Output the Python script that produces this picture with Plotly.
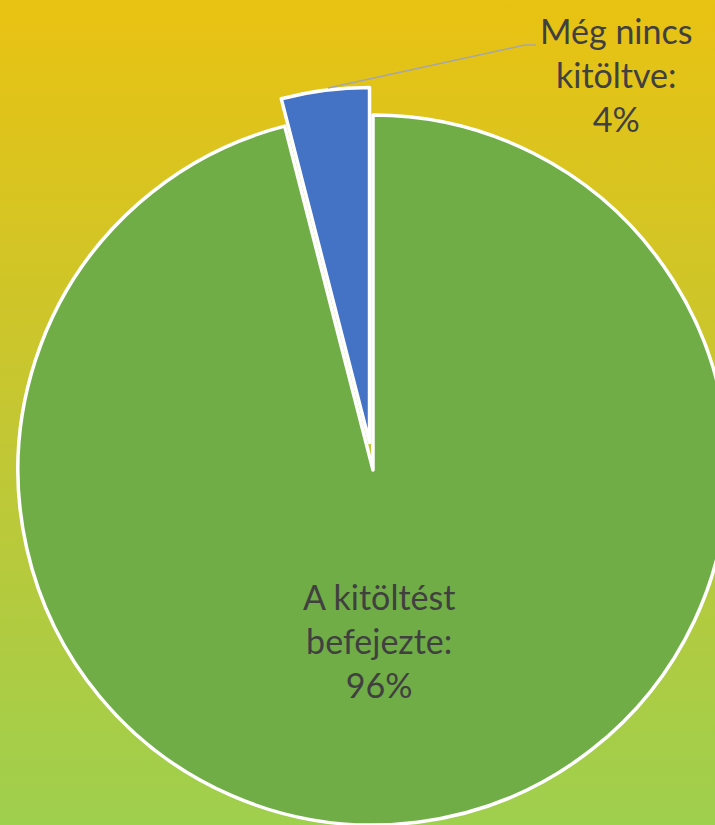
import plotly.graph_objects as go

# ---- data ----
labels = ["A kitöltést befejezte", "Még nincs kitöltve"]
values = [96, 4]
slice_colors = ["#70AD47", "#4472C4"]
pulls = [0, 0.078]

# ---- page / geometry (pixels) ----
W, H = 780, 860          # figure larger than the window; window clips it
SHIFT = 10               # figure div shifted left by this many px
CX, CY = 373 + SHIFT, 470  # pie centre in figure px
R = 355                  # pie radius in px
D = R * (1 + max(pulls))

def px(x):
    return (x + SHIFT) / W

def py(y):
    return 1 - y / H

total = sum(values)
pct = [f"{round(v / total * 100)}%" for v in values]

fig = go.Figure()

# background gradient
fig.add_trace(go.Scatter(
    x=[0, 1, 1, 0, 0], y=[0, 0, 1, 1, 0], mode="lines", fill="toself",
    line=dict(width=0), hoverinfo="skip", showlegend=False,
    fillgradient=dict(type="vertical",
                      colorscale=[[0, "#9BD050"], [0.5, "#C3C733"], [1, "#E9C212"]]),
))

fig.add_trace(go.Pie(
    labels=labels, values=values, sort=False, direction="counterclockwise",
    rotation=0, pull=pulls,
    marker=dict(colors=slice_colors, line=dict(color="white", width=3.5)),
    textinfo="none", hoverinfo="label+percent", showlegend=False,
    domain=dict(x=[(CX - D) / W, (CX + D) / W], y=[1 - (CY + D) / H, 1 - (CY - D) / H]),
))

font = dict(family="Lato, Open Sans, sans-serif", size=34, color="#404040")

fig.add_annotation(
    x=px(616), y=py(74), xref="paper", yref="paper", showarrow=False,
    xanchor="center", yanchor="middle",
    text=labels[1].replace(" kitöltve", "<br>kitöltve") + ":<br>" + pct[1],
    font=font, align="center",
)
fig.add_annotation(
    x=px(379), y=py(640), xref="paper", yref="paper", showarrow=False,
    xanchor="center", yanchor="middle",
    text=labels[0].replace(" befejezte", "<br>befejezte") + ":<br>" + pct[0],
    font=font, align="center",
)

# leader line
fig.add_shape(
    type="path", xref="paper", yref="paper",
    path=f"M {px(328)} {py(88)} L {px(525)} {py(45)} L {px(536)} {py(45)}",
    line=dict(color="#A6A6A6", width=1.5),
)

fig.update_layout(
    width=W, height=H, margin=dict(l=0, r=0, t=0, b=0),
    paper_bgcolor="#C8C830", plot_bgcolor="rgba(0,0,0,0)",
    xaxis=dict(range=[0, 1], visible=False, fixedrange=True),
    yaxis=dict(range=[0, 1], visible=False, fixedrange=True),
)

fig.write_html(
    "out.html",
    config=dict(displayModeBar=False),
    post_script=(
        "document.body.style.margin='0';"
        "document.body.style.overflow='hidden';"
        "document.getElementById('{plot_id}').style.marginLeft='-%dpx';" % SHIFT
    ),
)
